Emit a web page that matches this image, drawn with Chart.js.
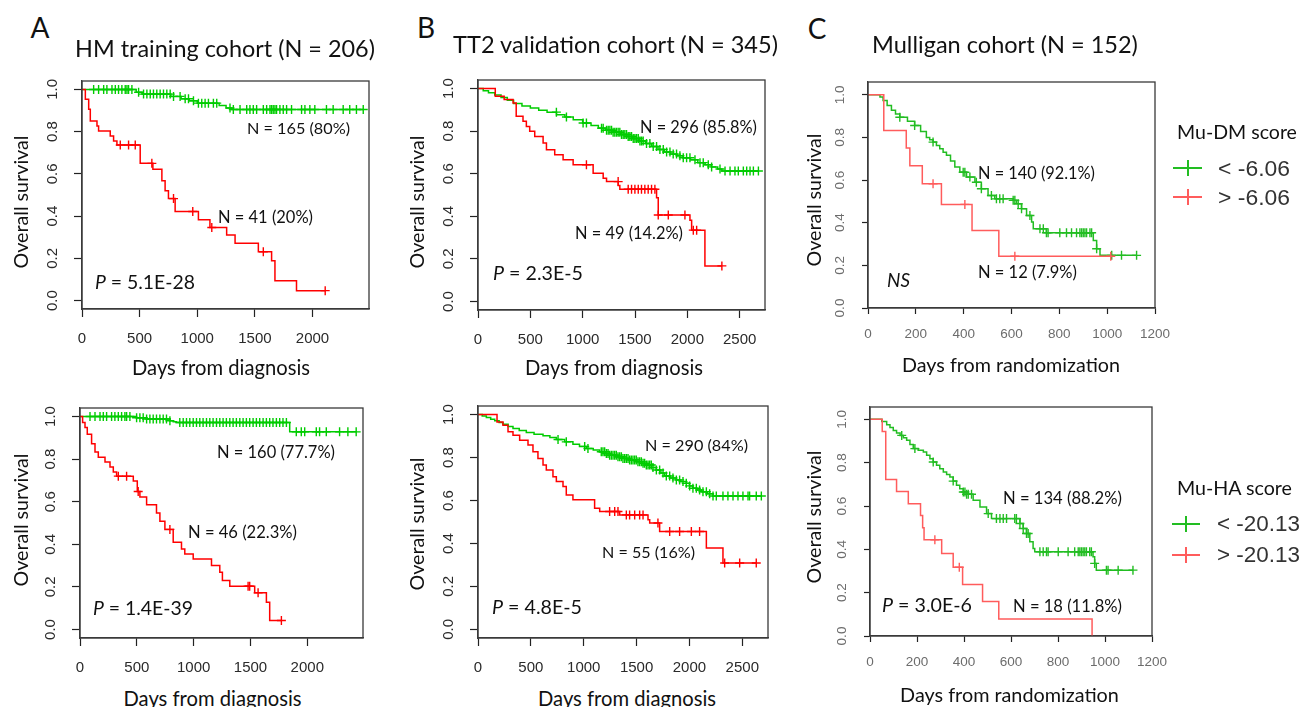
<!DOCTYPE html>
<html><head><meta charset="utf-8">
<script src="https://cdn.jsdelivr.net/npm/chart.js@4.4.1/dist/chart.umd.min.js"></script>
<style>
html,body{margin:0;padding:0;background:#fff;}
body{width:1303px;height:707px;position:relative;overflow:hidden;}
.t{position:absolute;white-space:nowrap;line-height:1;color:#111;font-family:Lato,'Open Sans',sans-serif;}
.w{position:absolute;}
.sym{position:absolute;}
</style></head><body>
<script>
// ---------------- DATA ----------------
const hmTicksX = [0, 500, 1000, 1500, 2000];
const tt2TicksX = [0, 500, 1000, 1500, 2000, 2500];
const mulTicksX = [0, 200, 400, 600, 800, 1000, 1200];
const survTicks = [0, 0.2, 0.4, 0.6, 0.8, 1.0];

// A top: HM training, Mu-DM
const hmTopGreenT = [0, 470, 520, 770, 860, 930, 1000, 1190, 1250, 1300];
const hmTopGreenS = [1, 0.987, 0.978, 0.967, 0.956, 0.946, 0.935, 0.924, 0.912, 0.905];
const hmTopGreenCens = [101,144,188,216,260,289,317,346,375,390,404,433,491,534,563,592,620,649,678,707,736,765,794,851,895,924,967,1010,1039,1068,1097,1140,1169,1284,1313,1371,1429,1457,1486,1515,1573,1602,1631,1645,1659,1674,1688,1717,1746,1775,1818,1905,1934,1977,2020,2121,2179,2266,2323,2381,2440];
const hmTopRedT = [0,29,58,72,130,144,245,274,303,505,615,693,721,750,808,1010,1110,1255,1328,1530,1645,1674,1861];
const hmTopRedS = [1,0.953,0.906,0.85,0.827,0.803,0.78,0.756,0.737,0.65,0.622,0.567,0.52,0.483,0.422,0.383,0.346,0.31,0.272,0.231,0.189,0.094,0.047];
const hmTopRedCens = [332,404,462,606,794,961,1126,1573,2110];

// B top: TT2 validation, Mu-DM
const tt2TopGreenT = [0,50,100,160,220,280,340,420,500,580,660,750,830,910,1000,1080,1150,1220,1290,1360,1420,1480,1540,1600,1660,1720,1780,1840,1900,1960,2030,2100,2170,2230,2290,2330];
const tt2TopGreenS = [1,0.99,0.98,0.97,0.958,0.945,0.93,0.918,0.908,0.898,0.889,0.877,0.866,0.853,0.838,0.826,0.814,0.804,0.795,0.784,0.775,0.765,0.754,0.742,0.728,0.714,0.702,0.692,0.684,0.675,0.665,0.652,0.642,0.632,0.622,0.613];
const tt2TopGreenCens = [749,845,1004,1036,1180,1196,1228,1244,1260,1276,1291,1307,1323,1339,1355,1371,1387,1403,1419,1435,1451,1467,1483,1499,1515,1531,1547,1562,1578,1610,1642,1674,1706,1738,1770,1802,1834,1865,1897,1929,1961,1993,2025,2073,2121,2152,2200,2232,2312,2360,2408,2455,2487,2535,2567,2599,2631,2679];
const tt2TopRedT = [0,165,250,335,365,430,462,494,542,622,654,733,813,909,1100,1196,1228,1340,1355,1706,1722,2025,2041,2168];
const tt2TopRedS = [1,0.964,0.948,0.932,0.87,0.846,0.822,0.799,0.775,0.744,0.712,0.689,0.665,0.642,0.602,0.579,0.563,0.545,0.527,0.487,0.406,0.382,0.335,0.167];
const tt2TopRedCens = [1036,1339,1435,1467,1499,1531,1562,1594,1626,1658,1690,1722,1818,1977,2057,2089,2330];

// C top: Mulligan, Mu-DM
const mulTopGreenT = [0,50,63,80,98,115,133,165,195,220,244,258,272,286,300,314,328,345,363,384,412,447,474,502,530,607,621,642,663,684,691,746,942,956,970];
const mulTopGreenS = [1,0.99,0.973,0.95,0.927,0.91,0.895,0.876,0.856,0.828,0.8,0.789,0.778,0.762,0.747,0.731,0.716,0.69,0.661,0.637,0.614,0.59,0.559,0.528,0.512,0.505,0.489,0.466,0.434,0.403,0.372,0.353,0.317,0.278,0.247];
const mulTopGreenCens = [133,195,272,398,405,426,453,474,516,537,551,565,607,614,628,642,677,719,733,746,753,802,830,851,872,886,893,900,907,914,928,935,956,1019,1060,1123];
const mulTopRedT = [0,66,160,175,227,307,435,547];
const mulTopRedS = [1,0.833,0.75,0.667,0.583,0.486,0.364,0.243];
const mulTopRedCens = [272,405,614,1015];

// A bottom: HM training, Mu-HA
const hmBotGreenT = [0,498,586,791,820,849,1845];
const hmBotGreenS = [1,0.994,0.988,0.98,0.975,0.972,0.928];
const hmBotGreenCens = [88,132,176,205,234,278,307,337,366,395,410,439,498,527,556,586,615,644,673,703,732,761,791,878,908,937,966,996,1025,1054,1083,1113,1142,1171,1201,1230,1259,1288,1318,1347,1376,1406,1435,1464,1493,1523,1552,1581,1611,1640,1669,1698,1728,1757,1786,1816,1903,1947,1977,2079,2108,2167,2284,2357,2430];
const hmBotRedT = [0,23,44,64,102,132,161,220,264,293,322,469,504,527,586,673,703,747,820,893,922,996,1157,1230,1253,1318,1537,1640,1669];
const hmBotRedS = [1,0.972,0.948,0.917,0.872,0.833,0.809,0.786,0.763,0.739,0.72,0.697,0.648,0.622,0.586,0.547,0.508,0.47,0.41,0.378,0.355,0.331,0.3,0.269,0.23,0.203,0.172,0.128,0.042];
const hmBotRedCens = [337,410,512,791,1479,1493,1567,1772];

// B bottom: TT2 validation, Mu-HA
const tt2BotGreenT = [0,40,79,120,158,200,236,285,331,390,457,530,615,680,741,820,898,960,1025,1090,1151,1200,1245,1310,1371,1430,1498,1550,1592,1640,1687,1730,1765,1820,1876,1920,1970,2000,2033,2070,2112,2170,2223];
const tt2BotGreenS = [1,0.993,0.986,0.978,0.971,0.963,0.955,0.945,0.935,0.926,0.917,0.909,0.901,0.893,0.884,0.873,0.862,0.852,0.842,0.835,0.827,0.819,0.811,0.804,0.796,0.789,0.781,0.773,0.765,0.754,0.742,0.728,0.714,0.705,0.696,0.688,0.68,0.668,0.657,0.649,0.641,0.631,0.621];
const tt2BotGreenCens = [757,835,1009,1040,1166,1182,1198,1214,1230,1245,1261,1277,1293,1308,1324,1340,1356,1371,1387,1403,1419,1434,1450,1466,1482,1497,1513,1529,1545,1561,1576,1592,1608,1624,1639,1655,1687,1718,1750,1781,1813,1844,1876,1907,1939,1970,2002,2033,2065,2096,2128,2160,2191,2223,2254,2317,2364,2412,2459,2506,2554,2569,2632,2680];
const tt2BotRedT = [0,180,236,284,331,394,473,520,567,615,646,709,741,804,835,898,1103,1151,1340,1608,1624,1718,2160,2317];
const tt2BotRedS = [1,0.966,0.95,0.92,0.904,0.88,0.858,0.827,0.796,0.765,0.742,0.711,0.688,0.665,0.626,0.603,0.564,0.549,0.533,0.51,0.495,0.456,0.379,0.309];
const tt2BotRedCens = [1245,1293,1324,1403,1434,1482,1529,1561,1702,1813,1907,2018,2096,2333,2475,2632];

// C bottom: Mulligan, Mu-HA
const mulBotGreenT = [0,50,71,85,99,113,128,142,156,170,184,205,227,241,255,269,283,297,312,326,340,354,368,382,397,411,439,468,496,517,638,652,666,680,694,701,949,956,963];
const mulBotGreenS = [1,0.99,0.975,0.962,0.949,0.937,0.926,0.915,0.903,0.884,0.865,0.857,0.849,0.834,0.818,0.803,0.788,0.772,0.757,0.745,0.734,0.715,0.696,0.68,0.665,0.654,0.627,0.596,0.565,0.542,0.519,0.496,0.473,0.435,0.404,0.389,0.366,0.335,0.304];
const mulBotGreenCens = [135,191,269,354,397,404,411,418,432,503,538,553,567,581,616,623,638,652,666,673,723,737,751,758,801,843,871,886,893,900,907,914,921,935,942,956,1006,1013,1056,1119];
const mulBotRedT = [0,52,67,113,163,215,224,230,305,354,394,479,548,945];
const mulBotRedS = [1,0.944,0.722,0.667,0.611,0.556,0.5,0.444,0.381,0.317,0.238,0.159,0.079,0];
const mulBotRedCens = [276,380];

// ---------------- STYLE / LAYOUT ----------------
const GREEN = '#00cc00';
const RED = '#ff0000';
const GREEN_C = '#22bd22';
const RED_C = '#ff5c5c';
const L = 70, T = 30, R = 35, B = 45;

const STYLES = {
  ab: {fs: 15, color: '#2a2a2a', tl: 8, xPad: 13, yPad: 11},
  c:  {fs: 13.5, color: '#6c6c6c', tl: 6, xPad: 12.5, yPad: 12}
};

function km(times, surv, cens, color) {
  const lastT = times[times.length - 1];
  const end = Math.max(lastT, cens.length ? Math.max(...cens) : 0);
  const line = times.map((t, i) => ({x: t, y: surv[i]}));
  if (end > lastT) line.push({x: end, y: surv[surv.length - 1]});
  const sAt = t => { let v = surv[0]; for (let i = 0; i < times.length; i++) if (times[i] <= t) v = surv[i]; return v; };
  const marks = cens.map(t => ({x: t, y: sAt(t)}));
  return [
    {data: line, borderColor: color, borderWidth: 1.5, stepped: true, pointRadius: 0, fill: false, tension: 0},
    {data: marks, showLine: false, borderColor: color, pointStyle: 'cross', pointRadius: 4.5,
     pointBorderColor: color, pointBackgroundColor: color, pointBorderWidth: 1.4}
  ];
}

const boxPlugin = {
  id: 'rbox',
  afterDraw(chart) {
    const {ctx, chartArea: a} = chart;
    ctx.save();
    ctx.strokeStyle = '#3a3a3a';
    ctx.lineWidth = 1.3;
    ctx.strokeRect(a.left, a.top, a.right - a.left, a.bottom - a.top);
    ctx.restore();
  }
};

function panel(box, xMax, yMin, yMax, xTicks, st, datasets) {
  const wrap = document.createElement('div');
  wrap.className = 'w';
  wrap.style.left = (box.l - L) + 'px';
  wrap.style.top = (box.t - T) + 'px';
  wrap.style.width = (box.r - box.l + L + R) + 'px';
  wrap.style.height = (box.b - box.t + T + B) + 'px';
  const cv = document.createElement('canvas');
  wrap.appendChild(cv);
  document.body.appendChild(wrap);
  const grid = {display: true, drawOnChartArea: false, drawTicks: true, tickLength: st.tl, tickColor: '#222', tickWidth: 1.2};
  const border = {display: true, color: '#3a3a3a', width: 1.3};
  const font = {family: "'Liberation Sans', Arial, sans-serif", size: st.fs};
  new Chart(cv, {
    type: 'line',
    data: {datasets},
    options: {
      responsive: true, maintainAspectRatio: false, animation: false, events: [],
      layout: {padding: {left: 0, top: T, right: R, bottom: 0}},
      plugins: {legend: {display: false}, tooltip: {enabled: false}},
      scales: {
        x: {type: 'linear', min: 0, max: xMax,
            afterFit: s => { s.height = B; },
            afterBuildTicks: s => { s.ticks = xTicks.map(v => ({value: v})); },
            ticks: {autoSkip: false, maxRotation: 0, minRotation: 0, padding: st.xPad, font, color: st.color,
                    callback: v => String(v)},
            grid, border},
        y: {type: 'linear', min: yMin, max: yMax,
            afterFit: s => { s.width = L; },
            afterBuildTicks: s => { s.ticks = survTicks.map(v => ({value: v})); },
            ticks: {autoSkip: false, minRotation: 90, maxRotation: 90, crossAlign: 'center', padding: st.yPad,
                    font, color: st.color, callback: v => Number(v).toFixed(1)},
            grid, border}
      }
    },
    plugins: [boxPlugin]
  });
}

panel({l: 82, r: 369, t: 81, b: 309}, 2490, -0.04, 1.04, hmTicksX, STYLES.ab,
  [...km(hmTopRedT, hmTopRedS, hmTopRedCens, RED), ...km(hmTopGreenT, hmTopGreenS, hmTopGreenCens, GREEN)]);
panel({l: 478, r: 765, t: 80, b: 310}, 2742, -0.04, 1.04, tt2TicksX, STYLES.ab,
  [...km(tt2TopRedT, tt2TopRedS, tt2TopRedCens, RED), ...km(tt2TopGreenT, tt2TopGreenS, tt2TopGreenCens, GREEN)]);
panel({l: 868, r: 1155, t: 82, b: 308}, 1200, 0, 1.06, mulTicksX, STYLES.c,
  [...km(mulTopRedT, mulTopRedS, mulTopRedCens, RED_C), ...km(mulTopGreenT, mulTopGreenS, mulTopGreenCens, GREEN_C)]);
panel({l: 80, r: 363, t: 408, b: 638}, 2490, -0.04, 1.04, hmTicksX, STYLES.ab,
  [...km(hmBotRedT, hmBotRedS, hmBotRedCens, RED), ...km(hmBotGreenT, hmBotGreenS, hmBotGreenCens, GREEN)]);
panel({l: 478, r: 768, t: 406, b: 638}, 2743, -0.04, 1.04, tt2TicksX, STYLES.ab,
  [...km(tt2BotRedT, tt2BotRedS, tt2BotRedCens, RED), ...km(tt2BotGreenT, tt2BotGreenS, tt2BotGreenCens, GREEN)]);
panel({l: 870, r: 1152, t: 407, b: 636}, 1200, 0, 1.057, mulTicksX, STYLES.c,
  [...km(mulBotRedT, mulBotRedS, mulBotRedCens, RED_C), ...km(mulBotGreenT, mulBotGreenS, mulBotGreenCens, GREEN_C)]);

// ---------------- TEXT ----------------
function addText(html, cx, cy, w, opts) {
  opts = opts || {};
  const el = document.createElement('div');
  el.className = 't';
  el.innerHTML = html;
  if (opts.family) el.style.fontFamily = opts.family;
  if (opts.color) el.style.color = opts.color;
  el.style.fontSize = '100px';
  document.body.appendChild(el);
  let fs = opts.size;
  if (!fs) { const mw = el.getBoundingClientRect().width; fs = 100 * w / mw; }
  el.style.fontSize = fs + 'px';
  el.style.left = cx + 'px';
  el.style.top = cy + 'px';
  el.style.transform = 'translate(-50%,-50%)' + (opts.rot ? ' rotate(' + opts.rot + 'deg)' : '');
}

const ARIAL = "'Liberation Sans', Arial, sans-serif";
// panel letters
addText('A', 40, 27, 0, {size: 28});
addText('B', 426, 27, 0, {size: 28});
addText('C', 817, 28, 0, {size: 28});
// titles
addText('HM training cohort (N = 206)', 225, 49, 300);
addText('TT2 validation cohort (N = 345)', 615.5, 45, 325);
addText('Mulligan cohort (N = 152)', 1005, 45, 266);
// x axis titles
addText('Days from diagnosis', 221, 367, 178);
addText('Days from diagnosis', 614, 367, 178);
addText('Days from randomization', 1011, 365, 218);
addText('Days from diagnosis', 212.5, 698, 178);
addText('Days from diagnosis', 627, 698, 178);
addText('Days from randomization', 1009.5, 695, 219);
// y axis titles
[[20.5, 202], [417, 202], [814, 200], [20.5, 520], [417, 524], [814, 517]].forEach(p =>
  addText('Overall survival', p[0], p[1], 133, {rot: -90}));
// annotations
addText('N = 165 (80%)', 298.5, 128, 103);
addText('N = 41 (20%)', 265.5, 217, 95);
addText('<i>P</i> = 5.1E-28', 145, 282, 100);
addText('N = 296 (85.8%)', 698.5, 127, 117);
addText('N = 49 (14.2%)', 629, 233, 108);
addText('<i>P</i> = 2.3E-5', 538, 273, 90);
addText('N = 140 (92.1%)', 1036.5, 173, 117);
addText('N = 12 (7.9%)', 1027.5, 272, 99);
addText('<i>NS</i>', 898.5, 280, 23);
addText('N = 160 (77.7%)', 276, 452, 118);
addText('N = 46 (22.3%)', 242.5, 532, 109);
addText('<i>P</i> = 1.4E-39', 143, 608, 100);
addText('N = 290 (84%)', 696.5, 445, 103);
addText('N = 55 (16%)', 648.5, 552, 93);
addText('<i>P</i> = 4.8E-5', 537, 607, 90);
addText('N = 134 (88.2%)', 1062.5, 498, 119);
addText('N = 18 (11.8%)', 1067.5, 606, 109);
addText('<i>P</i> = 3.0E-6', 927, 605, 90);

// legends
function legendSym(x1, x2, y, color) {
  const h = document.createElement('div');
  h.className = 'sym';
  h.style.cssText = `left:${x1}px;top:${y - 1}px;width:${x2 - x1}px;height:2px;background:${color}`;
  document.body.appendChild(h);
  const v = document.createElement('div');
  v.className = 'sym';
  const cx = (x1 + x2) / 2;
  v.style.cssText = `left:${cx - 1}px;top:${y - 8}px;width:2px;height:16px;background:${color}`;
  document.body.appendChild(v);
}
addText('Mu-DM score', 1237, 132, 120);
legendSym(1173, 1202, 168, GREEN_C);
legendSym(1173, 1202, 197, RED_C);
addText('&lt; -6.06', 1254, 168, 72, {family: ARIAL, color: '#333'});
addText('&gt; -6.06', 1254, 197, 72, {family: ARIAL, color: '#333'});
addText('Mu-HA score', 1234.5, 488, 115);
legendSym(1172, 1200, 524, GREEN_C);
legendSym(1172, 1200, 555, RED_C);
addText('&lt; -20.13', 1258.5, 524, 83, {family: ARIAL, color: '#333'});
addText('&gt; -20.13', 1258.5, 555, 83, {family: ARIAL, color: '#333'});
</script>
</body></html>
